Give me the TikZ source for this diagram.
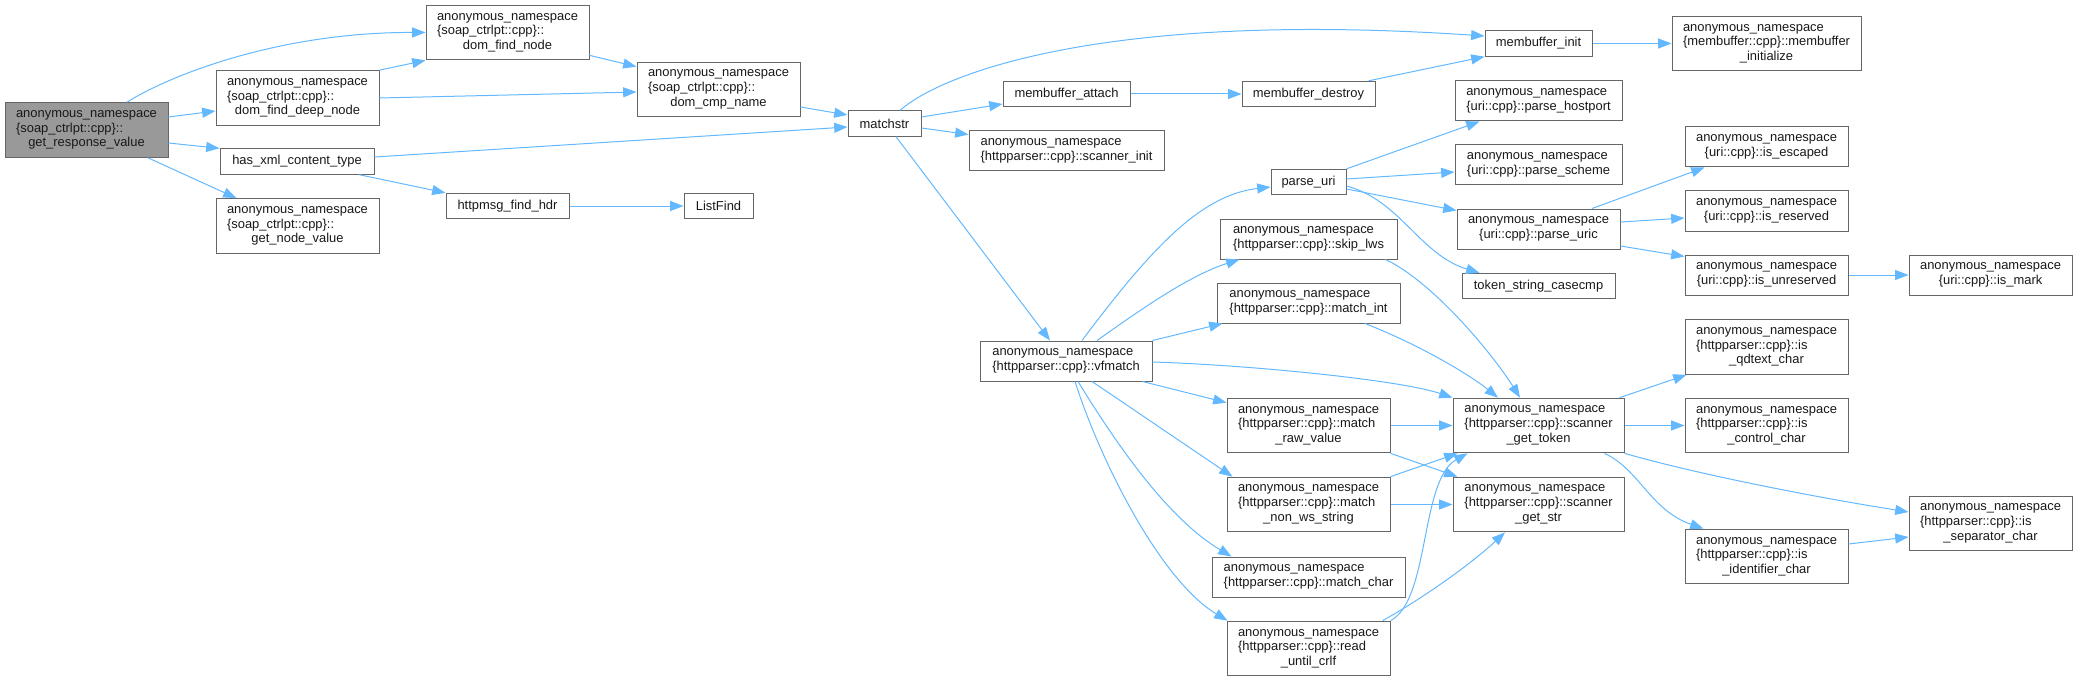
\documentclass[tikz,border=0pt]{standalone}
\usepackage{fontspec}
\setmainfont{Liberation Sans}
\usetikzlibrary{arrows.meta, calc}
\definecolor{edgeblue}{HTML}{63B8FF}
\definecolor{boxline}{HTML}{666666}
\definecolor{rootfill}{HTML}{999999}

\begin{document}
\begin{tikzpicture}[
    x=0.75pt, y=-0.75pt,
    fn/.style={
        rectangle, draw=boxline, fill=white, line width=0.75pt,
        font=\fontsize{9.7}{11}\selectfont, text=black!90,
        align=left, inner sep=0pt,
    },
    root/.style={fn, fill=rootfill},
    h1/.style={minimum height=19pt},
    h2/.style={minimum height=30pt},
    h3/.style={minimum height=41pt},
    call/.style={-{Triangle[length=10pt,width=7.5pt]}, draw=edgeblue, line width=0.75pt},
]
\useasboundingbox (0,0) rectangle (2077,681);

% --- caller ---
\node[root, h3, minimum width=122.25pt] (grv) at (86.5,130)
    {anonymous\_namespace\\\{soap\_ctrlpt::cpp\}::\\\hfil get\_response\_value};

% --- soap_ctrlpt helpers ---
\node[fn, h3, minimum width=122.25pt] (dfdn) at (297.5,98)
    {anonymous\_namespace\\\{soap\_ctrlpt::cpp\}::\\\hfil dom\_find\_deep\_node};
\node[fn, h1, minimum width=115.5pt] (hxct) at (297,161.5) {has\_xml\_content\_type};
\node[fn, h3, minimum width=122.25pt] (gnv) at (297.5,226)
    {anonymous\_namespace\\\{soap\_ctrlpt::cpp\}::\\\hfil get\_node\_value};
\node[fn, h3, minimum width=122.25pt] (dfn) at (507.5,32.5)
    {anonymous\_namespace\\\{soap\_ctrlpt::cpp\}::\\\hfil dom\_find\_node};
\node[fn, h1, minimum width=92.25pt] (hfh) at (507.5,206) {httpmsg\_find\_hdr};
\node[fn, h3, minimum width=122.25pt] (dcn) at (718.5,89.5)
    {anonymous\_namespace\\\{soap\_ctrlpt::cpp\}::\\\hfil dom\_cmp\_name};
\node[fn, h1, minimum width=51.75pt] (lf) at (718.5,206) {ListFind};
\node[fn, h1, minimum width=54.75pt] (ms) at (884.5,123.5) {matchstr};

% --- membuffer / scanner ---
\node[fn, h1, minimum width=95.25pt] (mba) at (1066.5,94) {membuffer\_attach};
\node[fn, h2, minimum width=146.25pt] (si) at (1066.5,151)
    {anonymous\_namespace\\\{httpparser::cpp\}::scanner\_init};
\node[fn, h2, minimum width=129pt] (vfm) at (1066,361)
    {anonymous\_namespace\\\{httpparser::cpp\}::vfmatch};
\node[fn, h1, minimum width=99.75pt] (mbd) at (1308.5,94) {membuffer\_destroy};
\node[fn, h1, minimum width=56.25pt] (puri) at (1308.5,182) {parse\_uri};
\node[fn, h2, minimum width=132.75pt] (slws) at (1308.5,239)
    {anonymous\_namespace\\\{httpparser::cpp\}::skip\_lws};
\node[fn, h2, minimum width=137.25pt] (mint) at (1308.5,303)
    {anonymous\_namespace\\\{httpparser::cpp\}::match\_int};
\node[fn, h3, minimum width=122.25pt] (mrv) at (1308.5,425.5)
    {anonymous\_namespace\\\{httpparser::cpp\}::match\\\hfil \_raw\_value};
\node[fn, h3, minimum width=122.25pt] (mnws) at (1308.5,504.5)
    {anonymous\_namespace\\\{httpparser::cpp\}::match\\\hfil \_non\_ws\_string};
\node[fn, h2, minimum width=144.75pt] (mch) at (1308.5,577)
    {anonymous\_namespace\\\{httpparser::cpp\}::match\_char};
\node[fn, h3, minimum width=122.25pt] (ruc) at (1308.5,648.5)
    {anonymous\_namespace\\\{httpparser::cpp\}::read\\\hfil \_until\_crlf};

% --- uri / scanner callees ---
\node[fn, h1, minimum width=80.25pt] (mbi) at (1538.5,43.5) {membuffer\_init};
\node[fn, h2, minimum width=125.25pt] (phost) at (1538.5,101)
    {anonymous\_namespace\\\hfil\{uri::cpp\}::parse\_hostport};
\node[fn, h2, minimum width=125.25pt] (psch) at (1538.5,165)
    {anonymous\_namespace\\\hfil\{uri::cpp\}::parse\_scheme};
\node[fn, h2, minimum width=122.25pt] (puric) at (1538.5,229)
    {anonymous\_namespace\\\hfil\{uri::cpp\}::parse\_uric};
\node[fn, h1, minimum width=114.75pt] (tsc) at (1538.5,286) {token\_string\_casecmp};
\node[fn, h3, minimum width=128.25pt] (sgt) at (1538.5,425.5)
    {anonymous\_namespace\\\{httpparser::cpp\}::scanner\\\hfil \_get\_token};
\node[fn, h3, minimum width=128.25pt] (sgs) at (1538.5,504.5)
    {anonymous\_namespace\\\{httpparser::cpp\}::scanner\\\hfil \_get\_str};

% --- leaves ---
\node[fn, h3, minimum width=141.75pt] (mbinit) at (1766.5,43.5)
    {anonymous\_namespace\\\{membuffer::cpp\}::membuffer\\\hfil \_initialize};
\node[fn, h2, minimum width=122.25pt] (isesc) at (1766.5,147)
    {anonymous\_namespace\\\hfil\{uri::cpp\}::is\_escaped};
\node[fn, h2, minimum width=122.25pt] (isres) at (1766.5,211)
    {anonymous\_namespace\\\hfil\{uri::cpp\}::is\_reserved};
\node[fn, h2, minimum width=122.25pt] (isunres) at (1766.5,275)
    {anonymous\_namespace\\\hfil\{uri::cpp\}::is\_unreserved};
\node[fn, h3, minimum width=122.25pt] (isqd) at (1766.5,347)
    {anonymous\_namespace\\\{httpparser::cpp\}::is\\\hfil \_qdtext\_char};
\node[fn, h3, minimum width=122.25pt] (isctl) at (1766.5,425.5)
    {anonymous\_namespace\\\{httpparser::cpp\}::is\\\hfil \_control\_char};
\node[fn, h3, minimum width=122.25pt] (isid) at (1766.5,556.5)
    {anonymous\_namespace\\\{httpparser::cpp\}::is\\\hfil \_identifier\_char};
\node[fn, h2, minimum width=122.25pt] (ismark) at (1990.5,275)
    {anonymous\_namespace\\\hfil\{uri::cpp\}::is\_mark};
\node[fn, h3, minimum width=122.25pt] (issep) at (1990.5,523.5)
    {anonymous\_namespace\\\{httpparser::cpp\}::is\\\hfil \_separator\_char};

% --- calls from get_response_value ---
\draw[call] ($(grv.north)+(40.5,0)$) .. controls (170,75) and (280,32) .. (dfn.west);
\draw[call] ($(grv.east)+(0,-13)$) -- ($(dfdn.west)+(0,13)$);
\draw[call] ($(grv.east)+(0,13)$) -- (hxct.north west);
\draw[call] ($(grv.south)+(61.5,0)$) -- ($(gnv.north west)+(21,0)$);

% --- soap_ctrlpt layer ---
\draw[call] (dfdn.north east) -- (dfn.south west);
\draw[call] (dfdn.east) -- ($(dcn.west)+(0,2.5)$);
\draw[call] ($(dfn.south east)+(0,-5)$) -- ($(dcn.north west)+(0,5)$);
\draw[call] ($(hxct.east)+(0,-4.5)$) -- ($(ms.west)+(0,3.5)$);
\draw[call] ($(hxct.south)+(62,0)$) -- (hfh.north west);
\draw[call] (hfh) -- (lf);
\draw[call] ($(dcn.east)+(0,17.5)$) -- ($(ms.west)+(0,-8.5)$);

% --- matchstr ---
\draw[call] ($(ms.north)+(15.5,0)$) .. controls (940,75) and (1100,10) .. ($(mbi.west)+(0,-7.5)$);
\draw[call] ($(ms.east)+(0,-6.5)$) -- ($(mba.west)+(0,10)$);
\draw[call] ($(ms.east)+(0,4.5)$) -- ($(si.north west)+(0,4)$);
\draw[call] ($(ms.south)+(11.5,0)$) -- ($(vfm.north)+(-16,0)$);
\draw[call] (mba) -- (mbd);
\draw[call] ($(mbd.north east)+(-7,0)$) -- (mbi.south west);
\draw[call] (mbi) -- (mbinit);

% --- parse_uri ---
\draw[call] (puri.north east) -- ($(phost.south west)+(25,0)$);
\draw[call] ($(puri.east)+(0,-3)$) -- ($(psch.west)+(0,7)$);
\draw[call] ($(puri.east)+(0,7)$) -- ($(puric.north west)+(0,2)$);
\draw[call] ($(puri.east)+(0,4)$) .. controls (1400,200) and (1420,255) .. ($(tsc.north west)+(18,0)$);
\draw[call] ($(puric.north)+(53.5,0)$) -- ($(isesc.south west)+(20,0)$);
\draw[call] ($(puric.east)+(0,-7)$) -- ($(isres.west)+(0,7)$);
\draw[call] ($(puric.east)+(0,17)$) -- ($(isunres.north west)+(0,2)$);
\draw[call] (isunres) -- (ismark);

% --- vfmatch ---
\draw[call] ($(vfm.north)+(16,0)$) .. controls (1150,250) and (1200,195) .. ($(puri.west)+(0,5)$);
\draw[call] ($(vfm.north)+(31,0)$) .. controls (1140,310) and (1190,275) .. ($(slws.south west)+(20,0)$);
\draw[call] (vfm.north east) -- ($(mint.south west)+(6,0)$);
\draw[call] ($(vfm.east)+(0,1)$) .. controls (1250,365) and (1400,380) .. (sgt.north west);
\draw[call] ($(vfm.south east)+(-10,0)$) -- ($(mrv.north west)+(0,5)$);
\draw[call] ($(vfm.south)+(26,0)$) -- ($(mnws.north west)+(6,0)$);
\draw[call] ($(vfm.south)+(12,0)$) .. controls (1120,450) and (1170,520) .. ($(mch.north west)+(20,0)$);
\draw[call] ($(vfm.south)+(9,0)$) .. controls (1100,460) and (1160,580) .. ($(ruc.north west)+(1,0)$);

% --- into the scanner ---
\draw[call] ($(slws.south east)+(-12,0)$) .. controls (1430,280) and (1490,350) .. ($(sgt.north)+(-18.5,0)$);
\draw[call] ($(mint.south)+(56.5,0)$) .. controls (1420,345) and (1470,375) .. ($(sgt.north)+(-40.5,0)$);
\draw[call] (mrv) -- (sgt);
\draw[call] (mrv.south east) -- ($(sgs.north west)+(5,0)$);
\draw[call] (mnws.north east) -- ($(sgt.south west)+(5,0)$);
\draw[call] (mnws) -- (sgs);
\draw[call] (ruc.north east) .. controls (1430,600) and (1420,480) .. ($(sgt.south west)+(15,0)$);
\draw[call] ($(ruc.north east)+(-8,0)$) .. controls (1420,600) and (1470,565) .. ($(sgs.south)+(-33.5,0)$);

% --- scanner_get_token ---
\draw[call] ($(sgt.north east)+(-5,0)$) -- ($(isqd.south west)+(2,0)$);
\draw[call] (sgt) -- (isctl);
\draw[call] (sgt.south east) .. controls (1700,475) and (1820,498) .. ($(issep.west)+(0,-11.5)$);
\draw[call] ($(sgt.south east)+(-20,0)$) .. controls (1640,470) and (1650,510) .. ($(isid.north west)+(19,0)$);
\draw[call] ($(isid.east)+(0,-12.5)$) -- ($(issep.west)+(0,13.5)$);

\end{tikzpicture}
\end{document}
